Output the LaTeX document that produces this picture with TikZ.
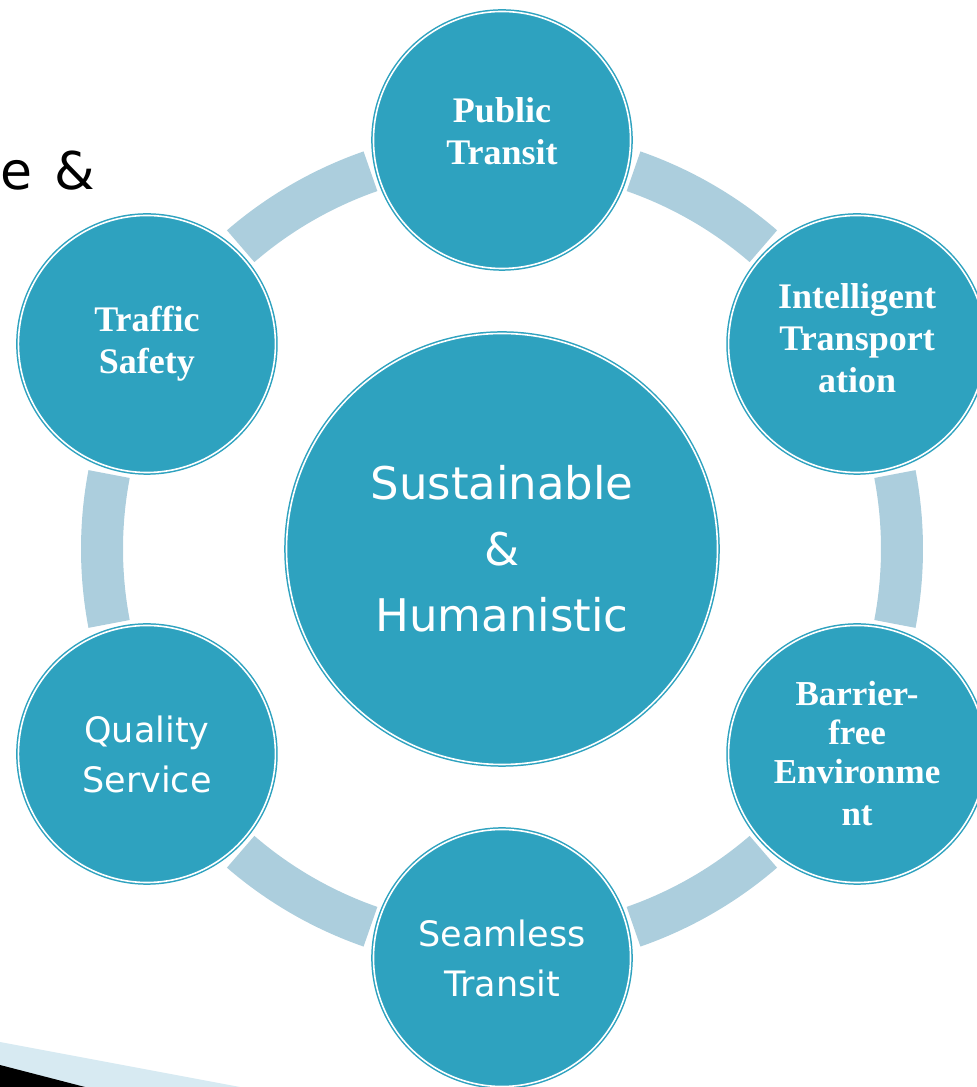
\documentclass[tikz,border=0pt]{standalone}
\usepackage{fontspec}
\setmainfont{Liberation Serif}
\newfontfamily\djv{DejaVu Sans}
\usetikzlibrary{calc}
\definecolor{tealfill}{RGB}{46,162,191}
\definecolor{bandcol}{RGB}{172,206,221}
\definecolor{lightband}{RGB}{215,234,242}
\begin{document}
\begin{tikzpicture}[x=1pt,y=1pt,
  bubble/.style={circle, fill=tealfill, draw=tealfill, double=white, double distance=1.6pt, line width=1.5pt, minimum size=257pt, inner sep=0pt, text=white, align=center},
  serifb/.style={font=\fontsize{36}{42}\selectfont\bfseries},
  sansl/.style={font=\djv\fontsize{35}{50}\selectfont},
  bandfill/.style={fill=bandcol},
]
\useasboundingbox (0,0) rectangle (977,1087);
\coordinate (c) at (502,538);
% ring bands
\foreach \a in {0,60,120,180,240,300}{
  \fill[bandfill] ($(c)+(\a-10.8:379)$) arc[start angle=\a-10.8, end angle=\a+10.8, radius=379]
    -- ($(c)+(\a+10.8:421)$) arc[start angle=\a+10.8, end angle=\a-10.8, radius=421] -- cycle;
}
% centre
\node[bubble, minimum size=431pt, font=\djv\fontsize{45}{66}\selectfont] (centre) at (c) {Sustainable\\\&\\Humanistic};
% outer circles
\node[bubble, serifb] (pt) at ($(c)+(90:409)$) {Public\\Transit\\[-24pt]\mbox{}};
\node[bubble, serifb] (its) at ($(c)+(30:410)$) {Intelligent\\Transport\\ation\\[-30pt]\mbox{}};
\node[bubble, serifb, font=\fontsize{35}{39}\selectfont\bfseries] (bfe) at ($(c)+(-30:410)$) {Barrier-\\free\\Environme\\[3pt]nt};
\node[bubble, sansl] (st) at ($(c)+(-90:409)$) {Seamless\\Transit};
\node[bubble, sansl] (qs) at ($(c)+(210:410)$) {Quality\\Service};
\node[bubble, serifb] (ts) at ($(c)+(150:410)$) {Traffic\\Safety};
% title fragment
\node[anchor=base west, inner sep=0pt, font=\djv\fontsize{52}{60}\selectfont] (title) at (0,897) {e\hspace{22pt}\&};
% bottom-left decoration
\fill[lightband] (0,45) -- (240,0) -- (0,0) -- cycle;
\fill[black] (0,22) -- (85,0) -- (0,0) -- cycle;
\end{tikzpicture}
\end{document}
